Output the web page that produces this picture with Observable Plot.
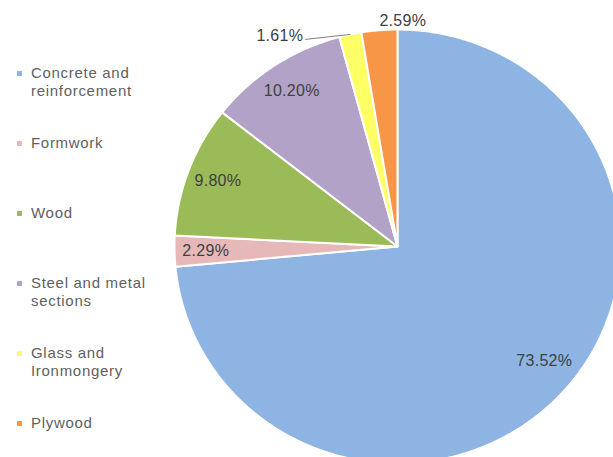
<!DOCTYPE html>
<html><head><meta charset="utf-8">
<script src="https://cdn.jsdelivr.net/npm/d3@7"></script>
<script src="https://cdn.jsdelivr.net/npm/@observablehq/plot@0.6"></script>
<style>
body{margin:0;background:#fff;}
#chart{position:relative;width:613px;height:457px;overflow:hidden;font-family:"Liberation Sans",Arial,sans-serif;background:#fff;}
#chart svg{position:absolute;left:0;top:0;}
.item{position:absolute;left:17px;font-size:15px;color:#5f5f5f;line-height:18px;letter-spacing:0.7px;}
.item .sw{position:absolute;left:0;top:7px;width:5px;height:5px;}
.item .tx{position:absolute;left:14px;top:0;white-space:nowrap;}
</style>
</head><body><div id="chart"></div>
<script>
const categories = ["Concrete and reinforcement","Formwork","Wood","Steel and metal sections","Glass and Ironmongery","Plywood"];
const legendLines = [["Concrete and","reinforcement"],["Formwork"],["Wood"],["Steel and metal","sections"],["Glass and","Ironmongery"],["Plywood"]];
const values = [73.52, 2.29, 9.80, 10.20, 1.61, 2.59];
const labels = ["73.52%","2.29%","9.80%","10.20%","1.61%","2.59%"];
const colors = ["#8DB4E2","#E6B9B8","#9BBB59","#B3A2C7","#FFFF66","#F79646"];
const placement = ["insideMain","inside","inside","inside","leader","above"];

// layout (pixels)
const W = 613, H = 457;
const layout = {cx: 397, cy: 246, rx: 223, ry: 217, labelR: 0.86, leaderDx: -45, leaderDy: 5};

const rows = categories.map((c, i) => ({cat: c, value: values[i], label: labels[i], place: placement[i]}));
const arcs = d3.pie().sort(null).value(d => d.value)(rows).map(a => ({...a.data, a0: a.startAngle, a1: a.endAngle, mid: (a.startAngle + a.endAngle) / 2}));

const pts = [];
for (const a of arcs) {
  pts.push({cat: a.cat, x: 0, y: 0});
  const n = Math.max(2, Math.ceil((a.a1 - a.a0) / (Math.PI / 360)));
  for (let k = 0; k <= n; k++) {
    const t = a.a0 + (a.a1 - a.a0) * k / n;
    pts.push({cat: a.cat, x: Math.sin(t), y: Math.cos(t)});
  }
  pts.push({cat: a.cat, x: 0, y: 0});
}

const inside = arcs.filter(a => a.place === "inside");
const insideMain = arcs.filter(a => a.place === "insideMain");
const leader = arcs.filter(a => a.place === "leader");
const above = arcs.filter(a => a.place === "above");
const ldx = layout.leaderDx / layout.rx, ldy = -layout.leaderDy / layout.ry;

const plot = Plot.plot({
  width: W, height: H,
  marginTop: 0, marginRight: 0, marginBottom: 0, marginLeft: 0,
  x: {domain: [-layout.cx / layout.rx, (W - layout.cx) / layout.rx], range: [0, W], axis: null},
  y: {domain: [-(H - layout.cy) / layout.ry, layout.cy / layout.ry], range: [H, 0], axis: null},
  color: {domain: categories, range: colors},
  style: {fontFamily: "'Liberation Sans', Arial, sans-serif", letterSpacing: "0.3px", background: "transparent"},
  marks: [
    Plot.line(pts, {x: "x", y: "y", z: "cat", fill: "cat", stroke: "white", strokeWidth: 2, strokeLinejoin: "round"}),
    Plot.text(inside, {x: d => layout.labelR * Math.sin(d.mid), y: d => layout.labelR * Math.cos(d.mid), text: "label", fill: "#404040", fontSize: 16}),
    Plot.text(insideMain, {x: d => layout.labelR * Math.sin(d.mid), y: d => layout.labelR * Math.cos(d.mid), text: "label", dx: 5, dy: -11, fill: "#404040", fontSize: 16}),
    Plot.link(leader, {x1: d => Math.sin(d.mid), y1: d => Math.cos(d.mid), x2: d => Math.sin(d.mid) + ldx, y2: d => Math.cos(d.mid) + ldy, stroke: "#7f7f7f", strokeWidth: 1}),
    Plot.text(leader, {x: d => Math.sin(d.mid) + ldx, y: d => Math.cos(d.mid) + ldy, text: "label", textAnchor: "end", dx: -2, dy: -4, fill: "#404040", fontSize: 16}),
    Plot.text(above, {x: d => Math.sin(d.mid), y: d => Math.cos(d.mid), text: "label", textAnchor: "start", lineAnchor: "bottom", dy: -4, fill: "#404040", fontSize: 16})
  ]
});

const chart = document.getElementById("chart");
chart.appendChild(plot);

// legend
categories.forEach((c, i) => {
  const item = document.createElement("div");
  item.className = "item";
  item.style.top = (64 + 70 * i) + "px";
  const sw = document.createElement("div");
  sw.className = "sw";
  sw.style.background = colors[i];
  const tx = document.createElement("div");
  tx.className = "tx";
  tx.innerHTML = legendLines[i].join("<br>");
  item.appendChild(sw); item.appendChild(tx);
  chart.appendChild(item);
});
</script>
</body></html>
